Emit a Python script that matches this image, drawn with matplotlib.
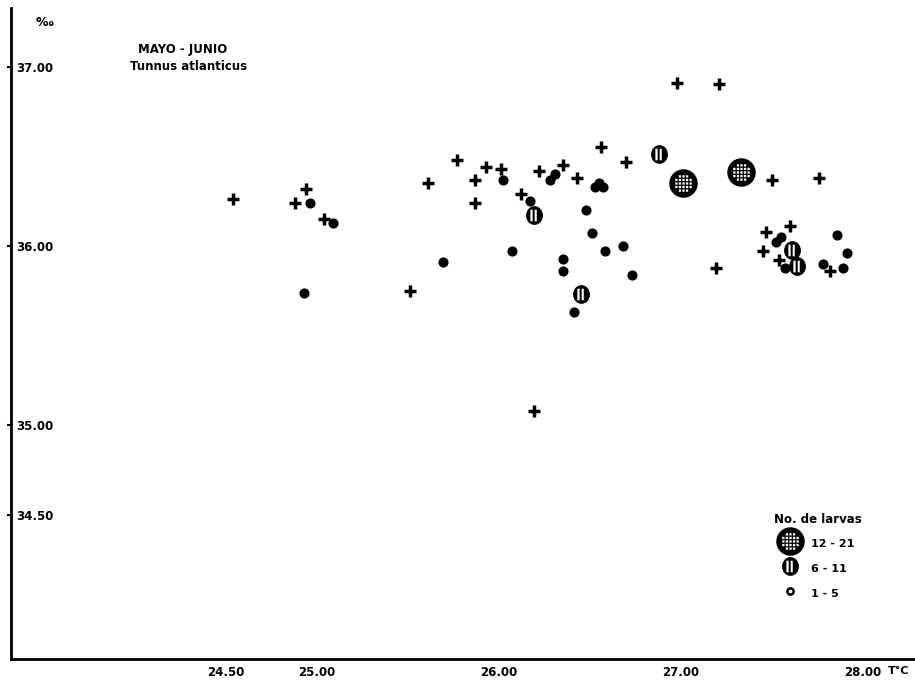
"""
Diagrama T-S de las estaciones, Tunnus atlanticus (mayo-junio).
"""

import matplotlib.pyplot as plt
from matplotlib.path import Path
from matplotlib.lines import Line2D

plt.rcParams['font.family'] = ['DejaVu Sans']
plt.rcParams['font.weight'] = 'bold'

# estaciones sin larvas (+)
cruz_t = [24.54, 24.94, 24.88, 25.04, 25.51, 25.61, 25.77, 25.87, 25.87, 25.93,
          26.01, 26.12, 26.22, 26.35, 26.43, 26.56, 26.70, 26.19, 26.98, 27.21,
          27.50, 27.76, 27.47, 27.60, 27.45, 27.54, 27.19, 27.82]
cruz_s = [36.26, 36.32, 36.24, 36.15, 35.75, 36.35, 36.48, 36.24, 36.37, 36.44,
          36.43, 36.29, 36.42, 36.45, 36.38, 36.55, 36.47, 35.08, 36.91, 36.90,
          36.37, 36.38, 36.08, 36.11, 35.97, 35.92, 35.88, 35.86]

# 1 - 5 larvas
t_1_5 = [24.96, 25.09, 24.93, 25.69, 26.02, 26.07, 26.17, 26.28, 26.31, 26.35,
         26.35, 26.41, 26.48, 26.51, 26.55, 26.53, 26.57, 26.58, 26.68, 26.73,
         27.52, 27.55, 27.57, 27.86, 27.91, 27.78, 27.89]
s_1_5 = [36.24, 36.13, 35.74, 35.91, 36.37, 35.97, 36.25, 36.37, 36.40, 35.93,
         35.86, 35.63, 36.20, 36.07, 36.35, 36.33, 36.33, 35.97, 36.00, 35.84,
         36.02, 36.05, 35.88, 36.06, 35.96, 35.90, 35.88]

# 6 - 11 larvas
t_6_11 = [26.19, 26.45, 26.88, 27.61, 27.64]
s_6_11 = [36.17, 35.73, 36.51, 35.98, 35.89]

# 12 - 21 larvas
t_12_21 = [27.01, 27.33]
s_12_21 = [36.35, 36.41]

xticks = [24.5, 25.0, 26.0, 27.0, 28.0]
xlabels = ['24.50', '25.00', '26.00', '27.00', '28.00']
yticks = [37.0, 36.0, 35.0, 34.5]
ylabels = ['37.00', '36.00', '35.00', '34.50']


def disco(huecos, escala_x=1.0):
    # circulo negro con huecos blancos (rectangulos en sentido horario)
    circ = Path.unit_circle()
    partes = [Path(circ.vertices * [escala_x, 1.0], circ.codes)]
    for x0, y0, x1, y1 in huecos:
        partes.append(Path([(x0, y0), (x0, y1), (x1, y1), (x1, y0), (x0, y0)],
                           [Path.MOVETO, Path.LINETO, Path.LINETO, Path.LINETO,
                            Path.CLOSEPOLY]))
    return Path.make_compound_path(*partes)


rayado = disco([(-0.44, -0.62, -0.2, 0.62), (0.02, -0.62, 0.24, 0.62)], escala_x=0.9)
huecos_red = []
for gx in [-0.5, -0.25, 0.0, 0.25, 0.5]:
    for gy in [-0.5, -0.25, 0.0, 0.25, 0.5]:
        if gx ** 2 + gy ** 2 < 0.4:
            huecos_red.append((gx - 0.08, gy - 0.08, gx + 0.08, gy + 0.08))
reticulado = disco(huecos_red)

fig = plt.figure(figsize=(9.15, 6.86), dpi=100)
ax = fig.add_axes([11 / 915, 1 - 659 / 686, 904 / 915, 651 / 686])

ax.plot(cruz_t, cruz_s, linestyle='none', marker='+', ms=8.5, mew=2.5,
        color='black', zorder=3)
ax.plot(t_1_5, s_1_5, linestyle='none', marker='o', ms=7.3, mew=0,
        color='black', zorder=3)
ax.plot(t_6_11, s_6_11, linestyle='none', marker=rayado, ms=13.5, mew=0,
        color='black', zorder=4)
ax.plot(t_12_21, s_12_21, linestyle='none', marker=reticulado, ms=20.5, mew=0,
        color='black', zorder=4)

ax.set_xlim(23.319, 28.286)
ax.set_ylim(33.699, 37.326)
for lado in ['top', 'right']:
    ax.spines[lado].set_visible(False)
ax.spines['left'].set_linewidth(2)
ax.spines['bottom'].set_linewidth(2)

ax.set_xticks(xticks)
ax.set_xticklabels(xlabels, fontsize=8.5, fontweight='bold')
ax.tick_params(axis='x', length=0, pad=5)
ax.set_yticks(yticks)
ax.set_yticklabels(ylabels, fontsize=8.5, fontweight='bold')
ax.tick_params(axis='y', length=3, width=1.5, direction='out', pad=-7)
for lbl in ax.get_yticklabels():
    lbl.set_horizontalalignment('left')

fig.text(45 / 915, 1 - 22 / 686, '‰', fontsize=9, fontweight='bold',
         ha='center', va='center')
fig.text(899 / 915, 1 - 671 / 686, 'T°C', fontsize=8, fontweight='bold',
         ha='center', va='center')
fig.text(183 / 915, 1 - 50 / 686, 'MAYO - JUNIO', fontsize=8.5,
         fontweight='bold', ha='center', va='center')
fig.text(189 / 915, 1 - 67 / 686, 'Tunnus atlanticus', fontsize=8.5,
         fontweight='bold', ha='center', va='center')

# leyenda
handles = [
    Line2D([], [], linestyle='none', marker=reticulado, ms=20.5, mew=0, color='black'),
    Line2D([], [], linestyle='none', marker=rayado, ms=13.5, mew=0, color='black'),
    Line2D([], [], linestyle='none', marker='o', ms=4.5, mew=1.8,
           markerfacecolor='white', markeredgecolor='black'),
]
leg = ax.legend(handles, ['12 - 21', '6 - 11', '1 - 5'], title='No. de larvas',
                loc='upper left', bbox_to_anchor=(768 / 915, 1 - 507 / 686),
                bbox_transform=fig.transFigure, frameon=False, borderpad=0,
                fontsize=8, title_fontsize=8.5, handlelength=1.8,
                handleheight=1.7, handletextpad=1.0, labelspacing=0.9)
for txt in leg.get_texts():
    txt.set_fontweight('bold')
leg.get_title().set_fontweight('bold')

plt.savefig('out.png', dpi=100)
